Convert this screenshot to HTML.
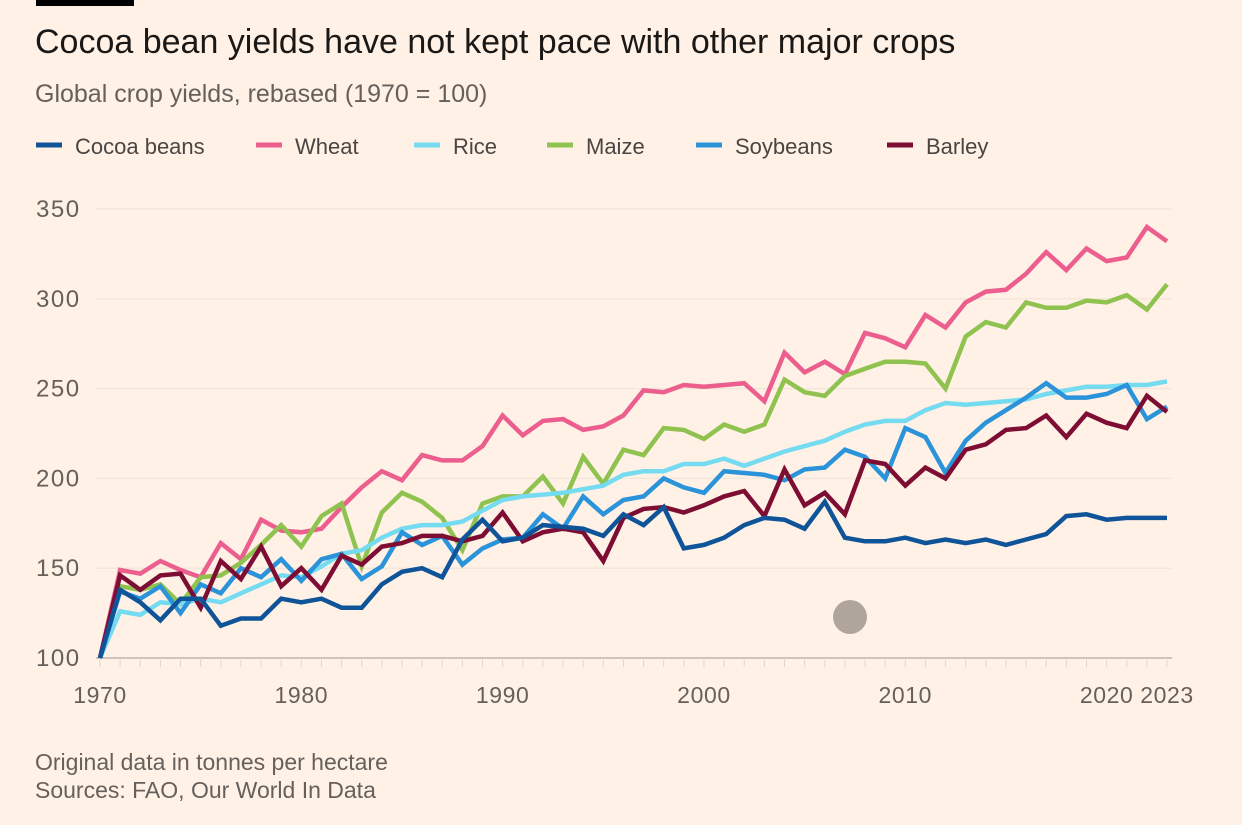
<!DOCTYPE html>
<html><head><meta charset="utf-8"><style>
body{margin:0;width:1242px;height:825px;background:#fff1e5;font-family:"Liberation Sans",sans-serif;overflow:hidden;position:relative}
.t{position:absolute;white-space:nowrap}
</style></head><body>
<div style="position:absolute;left:36px;top:0;width:98px;height:6px;background:#000"></div>
<div class="t" style="left:35px;top:23px;font-size:34px;color:#1a1817">Cocoa bean yields have not kept pace with other major crops</div>
<div class="t" style="left:35px;top:80px;font-size:25px;color:#66605c">Global crop yields, rebased (1970 = 100)</div>
<div class="t" style="left:35px;top:749px;font-size:23px;color:#66605c">Original data in tonnes per hectare</div>
<div class="t" style="left:35px;top:777px;font-size:23px;color:#66605c">Sources: FAO, Our World In Data</div>
<svg id="c" width="1242" height="825" style="position:absolute;left:0;top:0"></svg>
<script>
const years=[];for(let y=1970;y<=2023;y++)years.push(y);
const seriesNames=["Cocoa beans","Wheat","Rice","Maize","Soybeans","Barley"];
const seriesColors=["#0f5499","#eb5e8d","#75dbf0","#8fc24f","#2a93d9","#7d0d33"];
const cocoa=[100,138,131,121,133,133,118,122,122,133,131,133,128,128,141,148,150,145,166,177,165,167,174,173,172,168,180,174,184,161,163,167,174,178,177,172,187,167,165,165,167,164,166,164,166,163,166,169,179,180,177,178,178,178];
const wheat=[100,149,147,154,149,145,164,155,177,171,170,172,184,195,204,199,213,210,210,218,235,224,232,233,227,229,235,249,248,252,251,252,253,243,270,259,265,258,281,278,273,291,284,298,304,305,314,326,316,328,321,323,340,332];
const rice=[100,126,124,131,130,133,131,136,141,146,145,151,158,160,167,172,174,174,176,182,188,190,191,192,194,196,202,204,204,208,208,211,207,211,215,218,221,226,230,232,232,238,242,241,242,243,244,247,249,251,251,252,252,254];
const maize=[100,140,138,141,130,145,146,153,163,174,162,179,186,151,181,192,187,178,160,186,190,190,201,186,212,197,216,213,228,227,222,230,226,230,255,248,246,257,261,265,265,264,250,279,287,284,298,295,295,299,298,302,294,308];
const soy=[100,137,133,140,125,141,136,150,145,155,143,155,158,144,151,170,163,168,152,161,166,167,180,172,190,180,188,190,200,195,192,204,203,202,199,205,206,216,212,200,228,223,203,221,231,238,245,253,245,245,247,252,233,240];
const barley=[100,146,138,146,147,128,154,144,162,140,150,138,157,152,162,164,168,168,165,168,181,165,170,172,170,154,178,183,184,181,185,190,193,179,205,185,192,180,210,208,196,206,200,216,219,227,228,235,223,236,231,228,246,237];
const yTicks=[100,150,200,250,300,350];
const xTickLabels=[1970,1980,1990,2000,2010,2020,2023];
const data=[cocoa,wheat,rice,maize,soy,barley];
const NS="http://www.w3.org/2000/svg";
const svg=document.getElementById('c');
const X=y=>100+(y-1970)*(1167-100)/53;
const Y=v=>658-(v-100)*(658-209)/250;
function el(t,a){const e=document.createElementNS(NS,t);for(const k in a)e.setAttribute(k,a[k]);svg.appendChild(e);return e;}
yTicks.forEach(v=>{
 const g=el('line',{x1:96,x2:1172,y1:Y(v),y2:Y(v),stroke:v===100?'#b3a9a0':'#f3e6da','stroke-width':v===100?1.2:1.5});
 
 
 const t=el('text',{x:36,y:Y(v)+8,'font-size':24,fill:'#66605c','font-family':'Liberation Sans','letter-spacing':1.5});
 t.textContent=v;
 
 
});
years.forEach(y=>{
 const k=el('line',{x1:X(y),x2:X(y),y1:658,y2:667,stroke:'#e2d6cb','stroke-width':1});
 
 
});
xTickLabels.forEach(y=>{
 const t=el('text',{x:X(y),y:703,'font-size':23,fill:'#66605c','text-anchor':'middle','font-family':'Liberation Sans','letter-spacing':0.6});
 t.textContent=y;
 
 
});
[1,3,2,4,5,0].forEach(i=>{
 const d=data[i].map((v,j)=>(j?'L':'M')+X(years[j]).toFixed(1)+','+Y(v).toFixed(1)).join('');
 const p=el('path',{d:d,fill:'none',stroke:seriesColors[i],'stroke-width':4.5,'stroke-linejoin':'miter'});
 
 
});
const legX=[36,256,414,547,696,887];
seriesNames.forEach((n,i)=>{
 const l=el('line',{x1:legX[i],x2:legX[i]+26,y1:145,y2:145,stroke:seriesColors[i],'stroke-width':5});
 
 
 const t=el('text',{x:legX[i]+39,y:154,'font-size':22,fill:'#4a4542','font-family':'Liberation Sans'});
 t.textContent=n;
 
 
});
const c=el('circle',{cx:850,cy:617,r:17,fill:'#b0a59c'});


</script>
</body></html>
